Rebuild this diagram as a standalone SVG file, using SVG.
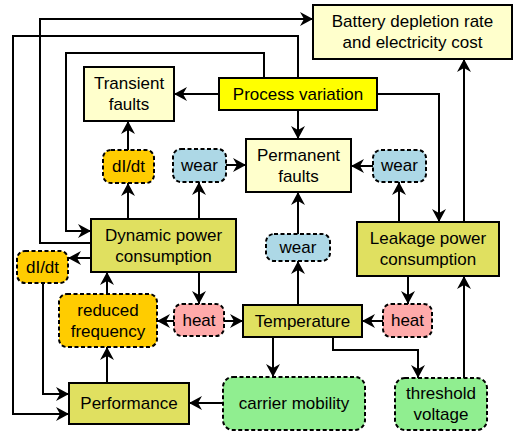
<svg xmlns="http://www.w3.org/2000/svg" width="515" height="435" viewBox="0 0 515 435">
  <style>
    text { font-family: "Liberation Sans", Arial, sans-serif; font-size: 17px; fill: #000; text-anchor: middle; }
    .box { stroke: #000; stroke-width: 2; }
    .soft { fill: #ffffcc; }
    .proc { fill: #ffff00; }
    .olive { fill: #e0e060; }
    .tag { stroke: #000; stroke-width: 2; stroke-dasharray: 4 2.5; }
    .orange { fill: #ffcc00; }
    .blue { fill: #add8e6; }
    .pink { fill: #ffaaaa; }
    .green { fill: #90ee90; }
    #connectors path { fill: none; stroke: #000; stroke-width: 2; marker-end: url(#arrow); }
  </style>
  <defs>
    <marker id="arrow" markerUnits="userSpaceOnUse" markerWidth="14" markerHeight="14" refX="13" refY="7" orient="auto">
      <path d="M0,0 L13,7 L0,14 L4,7 z" fill="#000"/>
    </marker>
  </defs>
  <rect width="515" height="435" fill="#fff"/>

  <g id="connectors">
    <path d="M91,243 H40 V19 H313"/>
    <path d="M298,78 V36 H13 V414 H69"/>
    <path d="M264,78 V53 H66 V231 H91"/>
    <path d="M219,94 H174"/>
    <path d="M298,110 V139"/>
    <path d="M377,94 H439 V222"/>
    <path d="M464,222 V59"/>
    <path d="M373,166 H351"/>
    <path d="M399,222 V182"/>
    <path d="M226,165 H246"/>
    <path d="M199,219 V182"/>
    <path d="M128,150 V121"/>
    <path d="M128,219 V183"/>
    <path d="M91,258 H68"/>
    <path d="M43,283 V394 H69"/>
    <path d="M107,294 V272"/>
    <path d="M107,383 V347"/>
    <path d="M199,272 V304"/>
    <path d="M174,321 H157"/>
    <path d="M224,321 H243"/>
    <path d="M298,305 V261"/>
    <path d="M298,234 V192"/>
    <path d="M408,276 V304"/>
    <path d="M383,321 H362"/>
    <path d="M273,337 V377"/>
    <path d="M333,337 V350 H418 V378"/>
    <path d="M464,378 V276"/>
    <path d="M223,403 H189"/>
  </g>

  <g id="battery">
    <rect class="box soft" x="313" y="5" width="199" height="54"/>
    <text x="412.5" y="27">Battery depletion rate</text>
    <text x="412.5" y="48">and electricity cost</text>
  </g>
  <g id="process">
    <rect class="box proc" x="219" y="78" width="158" height="32"/>
    <text x="298" y="100">Process variation</text>
  </g>
  <g id="transient">
    <rect class="box soft" x="84" y="67" width="90" height="54"/>
    <text x="129" y="89">Transient</text>
    <text x="129" y="110">faults</text>
  </g>
  <g id="permanent">
    <rect class="box soft" x="246" y="139" width="105" height="53"/>
    <text x="298.5" y="161">Permanent</text>
    <text x="298.5" y="182">faults</text>
  </g>
  <g id="didt-top">
    <rect class="tag orange" x="103" y="150" width="51" height="33" rx="8"/>
    <text x="128.5" y="172">dI/dt</text>
  </g>
  <g id="wear-left">
    <rect class="tag blue" x="173" y="149" width="53" height="33" rx="8"/>
    <text x="199.5" y="171">wear</text>
  </g>
  <g id="wear-right">
    <rect class="tag blue" x="373" y="150" width="53" height="32" rx="8"/>
    <text x="399.5" y="171">wear</text>
  </g>
  <g id="dynamic">
    <rect class="box olive" x="91" y="219" width="145" height="53"/>
    <text x="163.5" y="241">Dynamic power</text>
    <text x="163.5" y="262">consumption</text>
  </g>
  <g id="leakage">
    <rect class="box olive" x="357" y="222" width="142" height="54"/>
    <text x="428" y="244">Leakage power</text>
    <text x="428" y="265">consumption</text>
  </g>
  <g id="wear-mid">
    <rect class="tag blue" x="266" y="234" width="64" height="27" rx="8"/>
    <text x="298" y="253">wear</text>
  </g>
  <g id="didt-left">
    <rect class="tag orange" x="17" y="251" width="51" height="32" rx="8"/>
    <text x="42.5" y="273">dI/dt</text>
  </g>
  <g id="reduced">
    <rect class="tag orange" x="59" y="294" width="98" height="53" rx="8"/>
    <text x="108" y="316">reduced</text>
    <text x="108" y="337">frequency</text>
  </g>
  <g id="heat-left">
    <rect class="tag pink" x="174" y="304" width="50" height="32" rx="8"/>
    <text x="199" y="326">heat</text>
  </g>
  <g id="temperature">
    <rect class="box olive" x="243" y="305" width="119" height="32"/>
    <text x="302.5" y="327">Temperature</text>
  </g>
  <g id="heat-right">
    <rect class="tag pink" x="383" y="304" width="49" height="33" rx="8"/>
    <text x="407.5" y="326">heat</text>
  </g>
  <g id="performance">
    <rect class="box olive" x="69" y="383" width="120" height="41"/>
    <text x="129" y="409">Performance</text>
  </g>
  <g id="carrier">
    <rect class="tag green" x="223" y="377" width="142" height="53" rx="10"/>
    <text x="294" y="409">carrier mobility</text>
  </g>
  <g id="threshold">
    <rect class="tag green" x="395" y="378" width="92" height="52" rx="10"/>
    <text x="441" y="399">threshold</text>
    <text x="441" y="420">voltage</text>
  </g>
</svg>
